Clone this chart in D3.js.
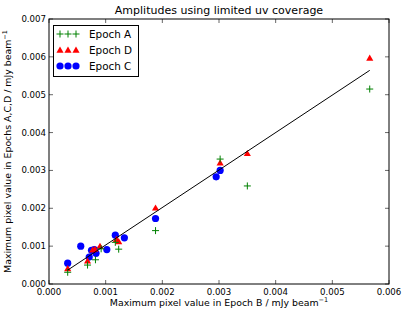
<!DOCTYPE html>
<html>
<head>
<meta charset="utf-8">
<script src="https://cdn.jsdelivr.net/npm/d3@7"></script>
<style>
  body { margin: 0; background: #fff; }
  svg text { font-family: "DejaVu Sans", sans-serif; }
</style>
</head>
<body>
<div id="chart"></div>
<script>
// data (x = epoch B, y = other epoch)
var epochA = [
  [0.00033, 0.00031], [0.00068, 0.00050], [0.00082, 0.00064], [0.00092, 0.00093],
  [0.00117, 0.00110], [0.00123, 0.00092], [0.00188, 0.00141], [0.00302, 0.00330],
  [0.00350, 0.00259], [0.00566, 0.00515]
]
var epochD = [
  [0.00033, 0.00041], [0.00068, 0.00061], [0.00077, 0.00090], [0.00081, 0.00092],
  [0.00090, 0.00100], [0.00119, 0.00118], [0.00123, 0.00112], [0.00188, 0.00201],
  [0.00302, 0.00320], [0.00350, 0.00345], [0.00566, 0.00597]
]
var epochC = [
  [0.00033, 0.00055], [0.00056, 0.00100], [0.00071, 0.00071], [0.00075, 0.00089],
  [0.00080, 0.00091], [0.00083, 0.00081], [0.00102, 0.00091], [0.00117, 0.00129],
  [0.00133, 0.00122], [0.00188, 0.00173], [0.00295, 0.00283], [0.00302, 0.00300]
]
// fitted line
var fitX = [0.00033, 0.00566]
var fitSlope = 0.99
var fitIntercept = 0.00004

var xTicks = [0, 0.001, 0.002, 0.003, 0.004, 0.005, 0.006]
var yTicks = [0, 0.001, 0.002, 0.003, 0.004, 0.005, 0.006, 0.007]
var legendNames = ["Epoch A", "Epoch D", "Epoch C"]

var W = 407, H = 314
var pL = 49, pR = 389, pT = 19, pB = 284

var svg = d3.select("#chart").append("svg").attr("width", W).attr("height", H)

var x = d3.scaleLinear().domain([0, 0.006]).range([pL, pR])
var y = d3.scaleLinear().domain([0, 0.007]).range([pB, pT])
var fmt = d3.format(".3f")

// ticks (inward, all four sides)
var g = svg.append("g")
xTicks.forEach(function(t) {
  g.append("line").attr("x1", x(t)).attr("x2", x(t)).attr("y1", pB).attr("y2", pB - 4)
    .attr("stroke", "#000").attr("stroke-width", 0.6)
  g.append("line").attr("x1", x(t)).attr("x2", x(t)).attr("y1", pT).attr("y2", pT + 4)
    .attr("stroke", "#000").attr("stroke-width", 0.6)
  g.append("text").attr("x", x(t)).attr("y", pB + 10.5).attr("text-anchor", "middle")
    .attr("font-size", 8.6).text(fmt(t))
})
yTicks.forEach(function(t) {
  g.append("line").attr("x1", pL).attr("x2", pL + 4).attr("y1", y(t)).attr("y2", y(t))
    .attr("stroke", "#000").attr("stroke-width", 0.6)
  g.append("line").attr("x1", pR).attr("x2", pR - 4).attr("y1", y(t)).attr("y2", y(t))
    .attr("stroke", "#000").attr("stroke-width", 0.6)
  g.append("text").attr("x", pL - 3).attr("y", y(t) + 3).attr("text-anchor", "end")
    .attr("font-size", 8.6).text(fmt(t))
})

// markers
function circles(sel, data) {
  sel.selectAll(null).data(data).enter().append("circle")
    .attr("cx", function(d) { return x(d[0]) }).attr("cy", function(d) { return y(d[1]) })
    .attr("r", 3.6).attr("fill", "#0000ff")
}
function triangles(sel, data) {
  sel.selectAll(null).data(data).enter().append("path")
    .attr("d", d3.symbol().type(d3.symbolTriangle).size(22))
    .attr("transform", function(d) { return "translate(" + x(d[0]) + "," + (y(d[1]) + 0.6) + ")" })
    .attr("fill", "#ff0000")
}
function pluses(sel, data) {
  sel.selectAll(null).data(data).enter().append("path")
    .attr("d", "M-3.5,0H3.5M0,-3.5V3.5")
    .attr("transform", function(d) { return "translate(" + x(d[0]) + "," + y(d[1]) + ")" })
    .attr("stroke", "#008000").attr("stroke-width", 1).attr("fill", "none")
}

var pts = svg.append("g")
circles(pts, epochC)
triangles(pts, epochD)
pluses(pts, epochA)

// fit line
var line = d3.line().x(function(d) { return x(d) }).y(function(d) { return y(fitSlope * d + fitIntercept) })
svg.append("path").datum(fitX).attr("d", line).attr("stroke", "#000").attr("stroke-width", 1)
  .attr("fill", "none")

// frame
svg.append("rect").attr("x", pL).attr("y", pT).attr("width", pR - pL).attr("height", pB - pT)
  .attr("fill", "none").attr("stroke", "#000").attr("stroke-width", 1)

// title and axis labels
svg.append("text").attr("x", (pL + pR) / 2).attr("y", 14).attr("text-anchor", "middle")
  .attr("font-size", 11).text("Amplitudes using limited uv coverage")

var xl = svg.append("text").attr("x", (pL + pR) / 2).attr("y", 306).attr("text-anchor", "middle")
  .attr("font-size", 9.4)
xl.append("tspan").text("Maximum pixel value in Epoch B / mJy beam")
xl.append("tspan").attr("dy", -4).attr("font-size", 6.5).text("\u22121")

var yl = svg.append("text").attr("transform", "translate(11," + ((pT + pB) / 2) + ") rotate(-90)")
  .attr("text-anchor", "middle").attr("font-size", 9.4)
yl.append("tspan").text("Maximum pixel value in Epochs A,C,D / mJy beam")
yl.append("tspan").attr("dy", -4).attr("font-size", 6.5).text("\u22121")

// legend
var lg = svg.append("g")
lg.append("rect").attr("x", 53.5).attr("y", 25.5).attr("width", 85).attr("height", 51)
  .attr("fill", "#fff").attr("stroke", "#000").attr("stroke-width", 1)
var legX = [60, 68, 76]
var legY = [34, 50, 66]
pluses(lg, legX.map(function(v) { return [x.invert(v), y.invert(legY[0])] }))
triangles(lg, legX.map(function(v) { return [x.invert(v), y.invert(legY[1])] }))
circles(lg, legX.map(function(v) { return [x.invert(v), y.invert(legY[2])] }))
legendNames.forEach(function(n, i) {
  lg.append("text").attr("x", 89).attr("y", legY[i] + 3.5).attr("font-size", 10.4).text(n)
})
</script>
</body>
</html>
